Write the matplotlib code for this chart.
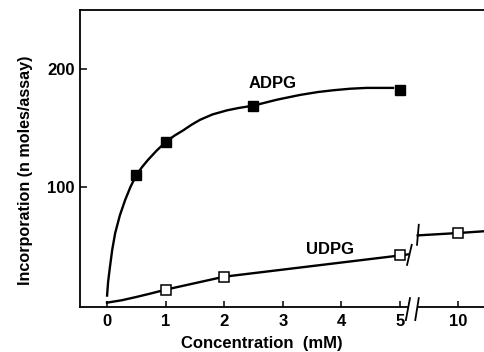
import numpy as np
import matplotlib.pyplot as plt

plt.rcParams['font.family'] = ['Liberation Sans', 'DejaVu Sans']
plt.rcParams['font.weight'] = 'bold'

adpg_x = [0.5, 1.0, 2.5, 5.0]
adpg_y = [110, 138, 169, 182]
adpg_curve_x = [0, 0.02, 0.05, 0.09, 0.14, 0.22, 0.31, 0.4, 0.5, 0.6, 0.7, 0.85, 1.0,
                1.15, 1.3, 1.45, 1.59, 1.8, 2.05, 2.25, 2.5, 2.9, 3.29, 3.6, 3.86,
                4.15, 4.43, 4.7, 4.9]
adpg_curve_y = [7, 20, 32, 47, 61, 76, 89, 100, 110, 117, 123, 131, 138,
                143.5, 148, 153, 157, 161.5, 165, 167, 169, 174, 178, 180.5, 182,
                183.3, 184, 184, 184]

# UDPG measured points and the drawn line
udpg_x = [1, 2, 5, 10]
udpg_y = [13, 24, 42, 61]
udpg_curve_x = [0, 0.25, 0.5, 0.75, 1, 2, 5, 5.15]
udpg_curve_y = [2, 4, 6.8, 9.8, 13, 24, 42, 43]
udpg_hi_x = [5.95, 10, 12.6]
udpg_hi_y = [59, 61, 62.5]

xticks = [0, 1, 2, 3, 4, 5, 10]
yticks = [100, 200]


def xpos(v):
    # broken axis: linear up to 5, compressed after the break
    v = np.asarray(v, dtype=float)
    return np.where(v <= 5.2, v, 5.99 + (v - 10) * 0.17)


fig = plt.figure(figsize=(4.84, 3.52), dpi=100)
ax = fig.add_axes([0.1663, 0.1278, 0.8337, 0.8424])

lw = 1.7
ax.plot(adpg_curve_x, adpg_curve_y, color='black', lw=lw, solid_capstyle='butt')
ax.plot(adpg_x, adpg_y, 's', color='black', ms=7.2)

ax.plot(xpos(udpg_curve_x), udpg_curve_y, color='black', lw=lw)
ax.plot(xpos(udpg_hi_x), udpg_hi_y, color='black', lw=lw)
ax.plot(xpos(udpg_x), udpg_y, 's', mfc='white', mec='black', mew=1.1, ms=6.5)

# break marks on the UDPG line
ax.plot([5.12, 5.2], [34, 51], color='black', lw=1.3)
ax.plot([5.29, 5.32], [51, 68], color='black', lw=1.3)

ax.text(2.82, 188, 'ADPG', ha='center', va='center', fontsize=12, fontweight='bold')
ax.text(3.8, 47, 'UDPG', ha='center', va='center', fontsize=12, fontweight='bold')

ax.set_xlim(-0.452, 6.433)
ax.set_ylim(-1.7, 249.6)

ax.set_xticks(xpos(xticks))
ax.set_xticklabels([str(t) for t in xticks])
ax.set_yticks(yticks)
ax.tick_params(direction='in', width=1.1, labelsize=12, colors='black')
ax.tick_params(axis='x', length=4, pad=5)
ax.tick_params(axis='y', length=5, pad=4)
for lab in ax.get_xticklabels() + ax.get_yticklabels():
    lab.set_fontweight('bold')

ax.spines['right'].set_visible(False)
ax.spines['bottom'].set_visible(False)
ax.spines['top'].set_linewidth(1.3)
ax.spines['left'].set_linewidth(1.3)

# bottom axis drawn in two pieces with a break
tr = ax.get_xaxis_transform()
ax.plot([-0.452, 5.12], [0, 0], color='black', lw=1.3, transform=tr, clip_on=False)
ax.plot([5.30, 6.433], [0, 0], color='black', lw=1.3, transform=tr, clip_on=False)
ax.plot([5.10, 5.17], [-0.044, 0.03], color='black', lw=1.3, transform=tr, clip_on=False)
ax.plot([5.26, 5.32], [-0.044, 0.03], color='black', lw=1.3, transform=tr, clip_on=False)

ax.set_xlabel('Concentration  (mM)', fontsize=12, fontweight='bold')
ax.xaxis.set_label_coords(0.45, -0.098)
ax.set_ylabel('Incorporation (n moles/assay)', fontsize=11.6, fontweight='bold')
ax.yaxis.set_label_coords(-0.118, 0.46)

fig.savefig('out.png', dpi=100)
